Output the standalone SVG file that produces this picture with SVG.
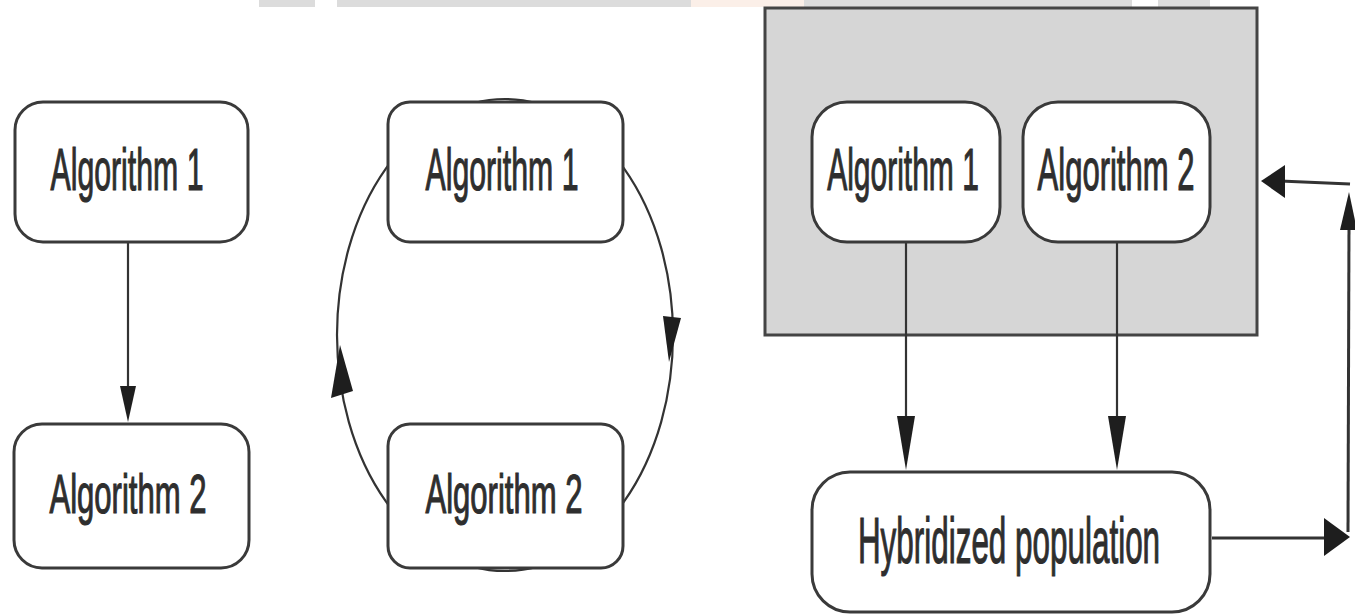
<svg xmlns="http://www.w3.org/2000/svg" width="1355" height="616" viewBox="0 0 1355 616">
<style>
.box{fill:#ffffff;stroke:#3a3a3a;stroke-width:3}
.lbl{font-family:"Liberation Sans",Arial,sans-serif;fill:#2e2e2e;stroke:#2e2e2e;stroke-width:1.2;text-anchor:middle}
.ln{fill:none;stroke:#333333;stroke-width:2.2}
.thick{fill:none;stroke:#333333;stroke-width:3}
.head{fill:#1e1e1e;stroke:none}
.wm{fill:#dcdcdc}
</style>
<rect width="1355" height="616" fill="#ffffff"/>
<g id="watermark">
<rect class="wm" x="259" y="0" width="56" height="7"/>
<rect class="wm" x="337" y="0" width="354" height="7"/>
<rect x="691" y="0" width="113" height="7" fill="#fbefe8"/>
<rect class="wm" x="804" y="0" width="328" height="7"/>
<rect class="wm" x="1158" y="0" width="52" height="7"/>
</g>
<g id="container">
<rect x="765" y="8" width="492" height="327" fill="#d6d6d6" stroke="#444444" stroke-width="3"/>
</g>
<g id="connectors">
<line class="ln" x1="128" y1="242" x2="128" y2="392"/>
<polygon class="head" points="120,386 136,386 128,422"/>
<ellipse class="ln" cx="505" cy="335" rx="168" ry="236"/>
<polygon class="head" points="663,316 681,318 669,362"/>
<polygon class="head" points="340,345 331,398 353,391"/>
<line class="ln" x1="906" y1="242" x2="906" y2="420"/>
<polygon class="head" points="897,416 915,416 906,470"/>
<line class="ln" x1="1117" y1="242" x2="1117" y2="420"/>
<polygon class="head" points="1108,416 1126,416 1117,470"/>
<path class="thick" d="M1212,538 L1328,538"/>
<polygon class="head" points="1324,518 1350,537 1324,556"/>
<path class="thick" d="M1348,532 L1349,226"/>
<polygon class="head" points="1340,230 1357,230 1349,192"/>
<path class="thick" d="M1350,184 L1280,181"/>
<polygon class="head" points="1285,165 1261,181 1285,198"/>
</g>
<g id="seq-alg1">
<rect class="box" x="15" y="102" width="233" height="140" rx="28"/>
<text class="lbl" font-size="60" transform="translate(127,190) scale(0.504,1)">Algorithm 1</text>
</g>
<g id="seq-alg2">
<rect class="box" x="14" y="424" width="235" height="144" rx="28"/>
<text class="lbl" font-size="56" transform="translate(128,513) scale(0.555,1)">Algorithm 2</text>
</g>
<g id="cyc-alg1">
<rect class="box" x="388" y="102" width="235" height="140" rx="22"/>
<text class="lbl" font-size="60" transform="translate(502,190) scale(0.504,1)">Algorithm 1</text>
</g>
<g id="cyc-alg2">
<rect class="box" x="388" y="424" width="235" height="144" rx="22"/>
<text class="lbl" font-size="56" transform="translate(504,513) scale(0.555,1)">Algorithm 2</text>
</g>
<g id="par-alg1">
<rect class="box" x="812" y="102" width="188" height="140" rx="35"/>
<text class="lbl" font-size="60" transform="translate(903,190) scale(0.5,1)">Algorithm 1</text>
</g>
<g id="par-alg2">
<rect class="box" x="1023" y="102" width="187" height="140" rx="35"/>
<text class="lbl" font-size="60" transform="translate(1116,190) scale(0.517,1)">Algorithm 2</text>
</g>
<g id="hybridized">
<rect class="box" x="812" y="472" width="398" height="140" rx="38"/>
<text class="lbl" font-size="64" transform="translate(1009,563) scale(0.491,1)">Hybridized population</text>
</g>
</svg>
